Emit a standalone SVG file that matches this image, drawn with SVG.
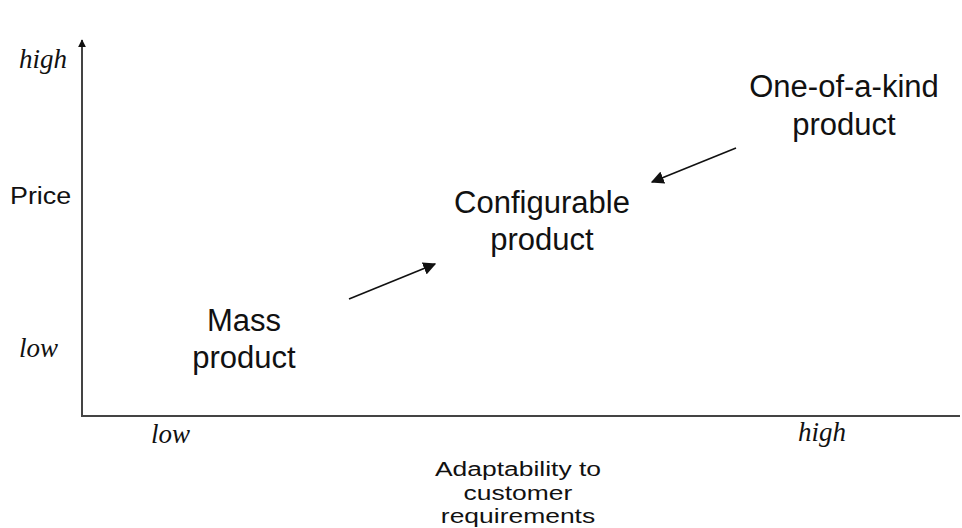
<svg xmlns="http://www.w3.org/2000/svg" width="962" height="528" viewBox="0 0 962 528">
  <style>
    .axis { stroke: #444; stroke-width: 2; fill: none; }
    .arrow { stroke: #111; stroke-width: 1.6; fill: none; }
    .tick { font-family: "Liberation Serif", "Times New Roman", serif; font-style: italic; font-size: 27px; fill: #111; }
    .label { font-family: "Liberation Sans", Arial, sans-serif; font-size: 21px; fill: #111; }
    .price { font-size: 24px; }
    .node { font-family: "Liberation Sans", Arial, sans-serif; font-size: 31px; fill: #111; text-anchor: middle; }
  </style>
  <defs>
    <marker id="head" viewBox="0 0 10 10" refX="9" refY="5" markerWidth="8" markerHeight="8" markerUnits="userSpaceOnUse" orient="auto">
      <path d="M0,0 L10,5 L0,10 Z" fill="#111"/>
    </marker>
    <marker id="bighead" viewBox="0 0 10 10" refX="9" refY="5" markerWidth="13" markerHeight="13" markerUnits="userSpaceOnUse" orient="auto">
      <path d="M0,0 L10,5 L0,10 Z" fill="#111"/>
    </marker>
  </defs>

  <!-- axes -->
  <g id="axes">
    <line class="axis" x1="82" y1="416" x2="82" y2="40" marker-end="url(#head)"/>
    <line class="axis" x1="81" y1="416" x2="960" y2="416"/>
  </g>

  <!-- axis labels (sans labels are drawn slightly widened) -->
  <g id="y-labels">
    <text class="tick" x="19" y="68">high</text>
    <text class="label price" transform="translate(10,204) scale(1.12,1)">Price</text>
    <text class="tick" x="19" y="357">low</text>
  </g>
  <g id="x-labels">
    <text class="tick" x="151" y="443">low</text>
    <text class="tick" x="798" y="441">high</text>
    <text class="label" text-anchor="middle" transform="translate(518,476) scale(1.26,1)">Adaptability to</text>
    <text class="label" text-anchor="middle" transform="translate(518,500) scale(1.26,1)">customer</text>
    <text class="label" text-anchor="middle" transform="translate(518,523) scale(1.26,1)">requirements</text>
  </g>

  <!-- nodes -->
  <g id="mass-product">
    <text class="node" x="244" y="331">Mass</text>
    <text class="node" x="244" y="368">product</text>
  </g>
  <g id="configurable-product">
    <text class="node" x="542" y="213">Configurable</text>
    <text class="node" x="542" y="250">product</text>
  </g>
  <g id="one-of-a-kind-product">
    <text class="node" x="844" y="97">One-of-a-kind</text>
    <text class="node" x="844" y="135">product</text>
  </g>

  <!-- connectors -->
  <g id="connectors">
    <line class="arrow" x1="349" y1="299" x2="435" y2="264" marker-end="url(#bighead)"/>
    <line class="arrow" x1="736" y1="148" x2="652" y2="182" marker-end="url(#bighead)"/>
  </g>
</svg>
